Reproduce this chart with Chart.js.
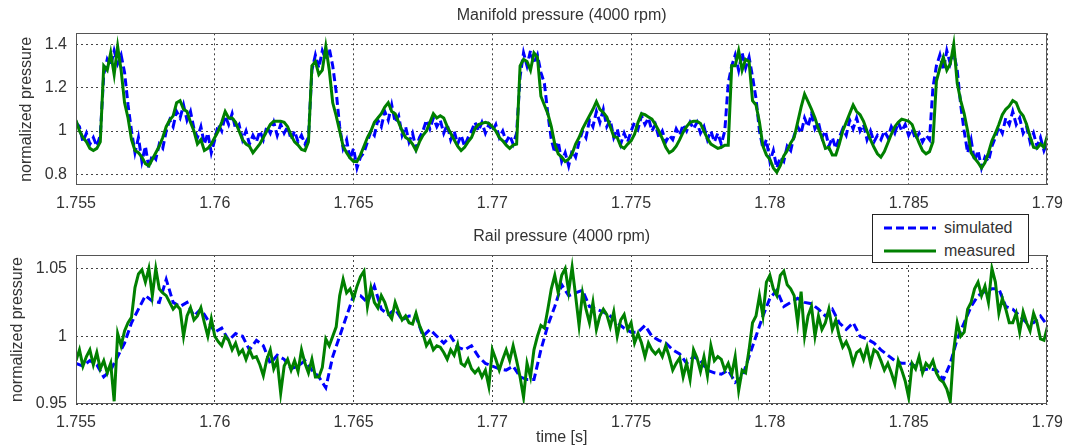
<!DOCTYPE html>
<html>
<head>
<meta charset="utf-8">
<title>Manifold and rail pressure</title>
<script src="https://cdn.jsdelivr.net/npm/chart.js@4.4.0/dist/chart.umd.min.js"></script>
<style>
    body { margin: 0; background: #fff; }
    .plot { position: absolute; left: 0; }
    #legend {
        position: absolute; left: 872px; top: 214px; width: 157px; height: 49px;
        box-sizing: border-box; border: 1px solid #222; background: #fff;
        font-family: "Liberation Sans", Arial, sans-serif; font-size: 16px; color: #333;
    }
    #legend .row { position: absolute; left: 0; height: 20px; }
    #legend svg { position: absolute; left: 11px; top: 7px; }
    #legend span { position: absolute; left: 71px; top: 0; line-height: 20px; white-space: nowrap; }
</style>
</head>
<body>
<div class="plot" style="top:0"><canvas id="manifold" width="1072" height="220"></canvas></div>
<div class="plot" style="top:210px"><canvas id="rail" width="1072" height="237"></canvas></div>
<div id="legend">
    <div class="row" style="top:3px">
        <svg width="52" height="6"><line x1="0" y1="3" x2="52" y2="3" stroke="#0000ff" stroke-width="3" stroke-dasharray="8 4"/></svg>
        <span>simulated</span>
    </div>
    <div class="row" style="top:26px">
        <svg width="52" height="6"><line x1="0" y1="3" x2="52" y2="3" stroke="#008000" stroke-width="3"/></svg>
        <span>measured</span>
    </div>
</div>
<script>
// --- Data (time base starts at 1.755 s) ---
const T0 = 1.755;
const DT_FINE = 0.000125;
const DT_COARSE = 0.00025;

const xTicks = [1.755, 1.76, 1.765, 1.77, 1.775, 1.78, 1.785, 1.79];
const xTickLabels = ['1.755', '1.76', '1.765', '1.77', '1.775', '1.78', '1.785', '1.79'];
const manifoldTicks = [0.8, 1, 1.2, 1.4];
const manifoldTickLabels = ['0.8', '1', '1.2', '1.4'];
const railTicks = [0.95, 1, 1.05];
const railTickLabels = ['0.95', '1', '1.05'];

// manifold pressure, step DT_FINE
const manifoldMeasured = [
    1.05, 1.00, 0.97, 0.95, 0.92, 0.91, 0.92, 0.95, 1.30, 1.28,
    1.36, 1.26, 1.39, 1.28, 1.13, 1.06, 0.96, 0.91, 0.90, 0.88,
    0.85, 0.84, 0.87, 0.90, 0.93, 0.97, 1.02, 1.05, 1.07, 1.13,
    1.14, 1.10, 1.09, 1.04, 1.00, 0.94, 0.96, 0.91, 0.92, 0.94,
    0.97, 1.00, 1.04, 1.09, 1.06, 1.06, 1.04, 1.00, 0.96, 0.94,
    0.93, 0.90, 0.92, 0.94, 0.97, 1.00, 1.03, 1.045, 1.045, 1.045,
    1.04, 1.02, 0.98, 0.95, 0.935, 0.915, 0.91, 0.95, 1.30, 1.32,
    1.26, 1.28, 1.39, 1.28, 1.13, 1.07, 1.00, 0.93, 0.90, 0.875,
    0.86, 0.86, 0.89, 0.93, 0.97, 1.00, 1.04, 1.06, 1.08, 1.11,
    1.13, 1.09, 1.08, 1.04, 1.00, 0.97, 0.96, 0.94, 0.91, 0.95,
    0.98, 1.00, 1.04, 1.08, 1.06, 1.07, 1.06, 1.02, 0.99, 0.96,
    0.93, 0.91, 0.925, 0.95, 0.97, 1.01, 1.03, 1.035, 1.04, 1.035,
    1.02, 1.00, 0.97, 0.955, 0.935, 0.92, 0.935, 0.94, 1.30, 1.33,
    1.32, 1.28, 1.36, 1.34, 1.16, 1.12, 1.08, 1.02, 0.94, 0.895,
    0.88, 0.86, 0.87, 0.895, 0.94, 0.97, 1.01, 1.04, 1.07, 1.10,
    1.135, 1.10, 1.085, 1.065, 1.02, 0.975, 0.97, 0.93, 0.92, 0.94,
    0.955, 0.985, 1.04, 1.08, 1.075, 1.065, 1.055, 1.03, 1.00, 0.965,
    0.925, 0.90, 0.91, 0.93, 0.96, 0.995, 1.02, 1.04, 1.045, 1.045,
    1.035, 1.00, 0.965, 0.94, 0.93, 0.92, 0.925, 0.935, 0.935, 1.30,
    1.30, 1.37, 1.28, 1.33, 1.32, 1.14, 1.12, 1.04, 0.93, 0.89,
    0.87, 0.83, 0.81, 0.84, 0.885, 0.91, 0.945, 0.97, 1.04, 1.11,
    1.17, 1.135, 1.10, 1.06, 1.01, 0.97, 0.92, 0.925, 0.89, 0.89,
    0.94, 1.00, 1.04, 1.08, 1.12, 1.09, 1.075, 1.045, 1.00, 0.96,
    0.925, 0.895, 0.88, 0.905, 0.945, 0.985, 1.02, 1.04, 1.055, 1.05,
    1.045, 1.03, 0.985, 0.945, 0.91, 0.895, 0.905, 0.95, 1.23, 1.29,
    1.34, 1.28, 1.31, 1.40, 1.22, 1.14, 1.08, 1.00, 0.90, 0.875,
    0.855, 0.83, 0.855, 0.90, 0.955, 0.99, 1.03, 1.075, 1.10, 1.115,
    1.14, 1.13, 1.09, 1.07, 1.03, 0.975, 0.925, 0.92, 0.94, 0.925, 0.98
];
const manifoldSimulated = [
    1.04, 1.02, 0.95, 0.99, 0.94, 0.97, 0.93, 0.98, 1.26, 1.33,
    1.30, 1.37, 1.31, 1.35, 1.27, 1.12, 1.00, 0.90, 0.97, 0.86,
    0.93, 0.83, 0.89, 0.87, 0.94, 0.92, 1.00, 1.05, 1.02, 1.09,
    1.06, 1.12, 1.05, 1.09, 1.01, 0.97, 1.02, 0.94, 0.99, 0.90,
    0.96, 1.03, 1.00, 1.07, 1.03, 1.08, 1.01, 1.03, 0.96, 1.00,
    0.94, 0.98, 0.95, 1.00, 0.96, 1.02, 0.99, 1.04, 0.98, 1.03,
    0.99, 1.02, 0.96, 1.00, 0.95, 0.98, 0.94, 0.97, 1.28, 1.35,
    1.29, 1.37, 1.33, 1.38, 1.30, 1.18, 1.02, 0.92, 0.96, 0.87,
    0.92, 0.83, 0.88, 0.90, 0.95, 1.00, 0.98, 1.05, 1.02, 1.09,
    1.05, 1.12, 1.04, 1.07, 0.98, 1.02, 0.95, 0.99, 0.92, 0.97,
    1.00, 1.05, 1.01, 1.06, 1.02, 1.05, 0.99, 1.03, 0.96, 1.00,
    0.94, 0.98, 0.93, 0.97, 1.00, 1.04, 1.00, 1.04, 0.99, 1.03,
    1.00, 1.03, 0.97, 1.00, 0.95, 0.98, 0.94, 0.99, 1.25, 1.36,
    1.30, 1.37, 1.31, 1.35, 1.27, 1.22, 1.08, 0.96, 0.90, 0.95,
    0.86, 0.90, 0.84, 0.91, 0.88, 0.95, 1.00, 0.97, 1.05, 1.02,
    1.09, 1.04, 1.10, 1.02, 1.05, 0.97, 1.01, 0.94, 0.99, 0.95,
    1.00, 1.04, 1.01, 1.07, 1.03, 1.06, 1.00, 1.03, 0.97, 1.00,
    0.95, 0.98, 0.96, 1.01, 0.98, 1.03, 1.00, 1.04, 1.01, 1.04,
    0.99, 1.02, 0.96, 1.00, 0.95, 0.99, 0.94, 1.00, 1.22, 1.30,
    1.35, 1.28, 1.36, 1.29, 1.34, 1.25, 1.15, 1.00, 0.92, 0.96,
    0.86, 0.91, 0.83, 0.88, 0.86, 0.93, 0.91, 0.98, 1.02, 0.99,
    1.06, 1.02, 1.08, 1.01, 1.04, 0.97, 1.00, 0.93, 0.97, 0.92,
    0.97, 1.01, 0.98, 1.05, 1.01, 1.06, 1.00, 1.03, 0.96, 1.00,
    0.95, 0.98, 0.96, 1.00, 0.97, 1.02, 0.99, 1.04, 1.00, 1.03,
    0.98, 1.01, 0.96, 0.99, 0.95, 0.98, 0.96, 1.20, 1.30, 1.35,
    1.28, 1.37, 1.31, 1.36, 1.28, 1.12, 1.00, 0.90, 0.96, 0.86,
    0.91, 0.83, 0.88, 0.86, 0.93, 0.97, 1.02, 0.99, 1.06, 1.03,
    1.09, 1.03, 1.06, 0.99, 1.02, 0.95, 0.99, 0.93, 0.97, 0.91, 0.95
];

// rail pressure: simulated step DT_COARSE, measured step DT_FINE
const railSimulated = [
    0.980, 0.978, 0.982, 0.979, 0.970, 0.975, 0.985, 0.995, 1.010, 1.020,
    1.030, 1.026, 1.025, 1.042, 1.025, 1.022, 1.025, 1.015, 1.020, 1.012,
    1.003, 1.006, 0.997, 1.002, 1.000, 0.990, 0.997, 0.993, 0.980, 0.986,
    0.983, 0.976, 0.978, 0.982, 0.975, 0.970, 0.962, 0.985, 1.000, 1.015,
    1.030, 1.030, 1.025, 1.037, 1.020, 1.016, 1.020, 1.012, 1.015, 1.015,
    1.000, 1.005, 1.000, 0.995, 1.000, 0.992, 0.990, 0.993, 0.985, 0.980,
    0.978, 0.976, 0.975, 0.978, 0.970, 0.968, 0.968, 0.990, 1.008, 1.022,
    1.038, 1.030, 1.032, 1.034, 1.022, 1.020, 1.018, 1.015, 1.010, 1.006,
    1.003, 1.003, 1.008, 1.000, 0.997, 0.995, 0.990, 0.987, 0.980, 0.985,
    0.982, 0.975, 0.973, 0.972, 0.975, 0.966, 0.970, 0.985, 1.000, 1.015,
    1.028, 1.034, 1.022, 1.025, 1.028, 1.025, 1.024, 1.020, 1.015, 1.020,
    1.010, 1.005, 1.010, 1.000, 0.998, 0.995, 0.990, 0.986, 0.982, 0.980,
    0.980, 0.978, 0.975, 0.976, 0.975, 0.968, 0.980, 0.998, 1.010, 1.022,
    1.030, 1.033, 1.035, 1.035, 1.022, 1.020, 1.015, 1.010, 1.010, 1.015, 1.008
];
const railMeasured = [
    0.982, 0.990, 0.978, 0.985, 0.990, 0.979, 0.988, 0.976, 0.982, 0.973,
    0.980, 0.952, 1.002, 0.993, 1.004, 1.010, 1.014, 1.036, 1.046, 1.049,
    1.040, 1.050, 1.030, 1.050, 1.035, 1.032, 1.030, 1.025, 1.020, 1.023,
    1.020, 1.000, 1.015, 1.021, 1.012, 1.015, 1.021, 1.010, 1.000, 1.013,
    1.000, 0.996, 0.993, 1.000, 0.997, 0.990, 0.995, 0.987, 0.990, 0.983,
    0.990, 0.984, 0.985, 0.979, 0.971, 0.983, 0.990, 0.976, 0.982, 0.958,
    0.978, 0.983, 0.975, 0.982, 0.974, 0.990, 0.980, 0.973, 0.983, 0.970,
    0.970, 0.977, 0.998, 0.993, 1.000, 1.007, 1.030, 1.042, 1.032, 1.035,
    1.028, 1.037, 1.044, 1.048, 1.022, 1.036, 1.025, 1.021, 1.030, 1.025,
    1.017, 1.013, 1.025, 1.018, 1.012, 1.015, 1.010, 1.009, 1.017, 1.008,
    1.002, 0.993, 0.997, 0.990, 0.993, 0.992, 0.988, 0.983, 0.990, 0.986,
    0.994, 0.980, 0.978, 0.983, 0.976, 0.973, 0.976, 0.970, 0.975, 0.963,
    0.990, 0.983, 0.975, 0.983, 0.990, 0.982, 0.993, 0.982, 0.970, 0.955,
    0.980, 0.970, 0.990, 1.000, 1.008, 1.006, 1.020, 1.035, 1.045, 1.032,
    1.045, 1.050, 1.033, 1.051, 1.030, 1.008, 1.032, 1.020, 1.010, 1.025,
    1.005, 1.015, 1.020, 1.016, 1.007, 1.018, 1.000, 1.012, 1.016, 1.005,
    1.010, 0.995, 1.002, 0.995, 0.985, 0.995, 0.990, 0.987, 0.990, 0.985,
    0.993, 0.985, 0.975, 0.980, 0.984, 0.970, 0.980, 0.968, 0.990, 0.984,
    0.974, 0.985, 0.971, 0.993, 0.982, 0.985, 0.983, 0.975, 0.980, 0.972,
    0.985, 0.960, 0.975, 0.973, 0.990, 1.010, 1.015, 1.030, 1.015, 1.040,
    1.045, 1.035, 1.030, 1.045, 1.048, 1.038, 1.035, 1.030, 1.010, 1.033,
    1.000, 1.015, 1.022, 1.000, 1.015, 1.005, 1.010, 1.020, 1.005, 1.012,
    1.000, 0.992, 0.996, 0.990, 0.980, 0.988, 0.990, 0.983, 0.992, 0.980,
    0.990, 0.988, 0.982, 0.975, 0.980, 0.973, 0.965, 0.982, 0.975, 0.967,
    0.955, 0.980, 0.976, 0.985, 0.973, 0.980, 0.977, 0.982, 0.973, 0.968,
    0.966, 0.961, 0.952, 0.990, 1.010, 1.000, 1.003, 1.020, 1.025, 1.035,
    1.040, 1.030, 1.037, 1.025, 1.050, 1.040, 1.017, 1.028, 1.020, 1.010,
    1.010, 1.017, 1.003, 1.018, 1.010, 1.004, 1.017, 1.010, 0.998, 0.997, 1.007
];

// --- Helpers ---
const toPoints = (values, dt) => values.map((v, i) => ({ x: T0 + i * dt, y: v }));

Chart.defaults.font.family = '"Liberation Sans", Arial, sans-serif';
Chart.defaults.font.size = 16;
Chart.defaults.color = '#333';

// box around the axes, like matlab
const framePlugin = {
    id: 'frame',
    afterDraw(chart) {
        const { ctx, chartArea: a } = chart;
        ctx.save();
        ctx.strokeStyle = '#555';
        ctx.lineWidth = 1;
        ctx.strokeRect(Math.round(a.left) + 0.5, Math.round(a.top) + 0.5,
            Math.round(a.right - a.left) - 1, Math.round(a.bottom - a.top) - 1);
        ctx.restore();
    }
};

function makePlot(canvasId, cfg) {
    return new Chart(document.getElementById(canvasId), {
        type: 'line',
        data: {
            datasets: [
                {
                    label: 'measured',
                    data: cfg.measured,
                    borderColor: '#008000',
                    borderWidth: 3,
                    order: 0
                },
                {
                    label: 'simulated',
                    data: cfg.simulated,
                    borderColor: '#0000ff',
                    borderWidth: 3,
                    borderDash: [8, 4],
                    order: 1
                }
            ]
        },
        options: {
            responsive: false,
            animation: false,
            parsing: true,
            elements: {
                point: { radius: 0 },
                line: { tension: 0, borderCapStyle: 'butt', borderJoinStyle: 'miter' }
            },
            layout: { padding: { left: 0, right: 22.7, top: 0, bottom: 0 } },
            plugins: {
                legend: { display: false },
                tooltip: { enabled: false },
                title: {
                    display: true,
                    text: cfg.title,
                    fullSize: false,
                    color: '#333',
                    font: { size: 16, weight: 'normal' },
                    padding: cfg.titlePadding
                }
            },
            scales: {
                x: {
                    type: 'linear',
                    min: 1.755,
                    max: 1.79,
                    afterBuildTicks: (axis) => { axis.ticks = xTicks.map(v => ({ value: v })); },
                    afterFit: (axis) => { axis.height = cfg.xHeight; },
                    ticks: { padding: 9, maxRotation: 0, autoSkip: false, callback: (v, i) => xTickLabels[i] },
                    grid: { color: '#444', lineWidth: 1, drawTicks: false },
                    border: { display: false, dash: [2, 3] },
                    title: {
                        display: !!cfg.xTitle,
                        text: cfg.xTitle || '',
                        padding: { top: 0, bottom: 0 }
                    }
                },
                y: {
                    type: 'linear',
                    min: cfg.yMin,
                    max: cfg.yMax,
                    afterBuildTicks: (axis) => { axis.ticks = cfg.yTicks.map(v => ({ value: v })); },
                    afterFit: (axis) => { axis.width = 76; },
                    ticks: { padding: 9, autoSkip: false, callback: (v, i) => cfg.yTickLabels[i] },
                    grid: { color: '#444', lineWidth: 1, drawTicks: false },
                    border: { display: false, dash: [2, 3] },
                    title: {
                        display: true,
                        text: 'normalized pressure',
                        padding: { top: cfg.yTitleOffset, bottom: 0 }
                    }
                }
            }
        },
        plugins: [framePlugin]
    });
}

// --- Top: manifold ---
makePlot('manifold', {
    title: 'Manifold pressure (4000 rpm)',
    titlePadding: { top: 6, bottom: 8.1 },
    measured: toPoints(manifoldMeasured, DT_FINE),
    simulated: toPoints(manifoldSimulated, DT_FINE),
    yMin: 0.75,
    yMax: 1.45,
    yTicks: manifoldTicks,
    yTickLabels: manifoldTickLabels,
    yTitleOffset: 17.2,
    xHeight: 34.7
});

// --- Bottom: rail ---
makePlot('rail', {
    title: 'Rail pressure (4000 rpm)',
    titlePadding: { top: 17.4, bottom: 8.4 },
    measured: toPoints(railMeasured, DT_FINE),
    simulated: toPoints(railSimulated, DT_COARSE),
    yMin: 0.95,
    yMax: 1.06,
    yTicks: railTicks,
    yTickLabels: railTickLabels,
    yTitleOffset: 7.7,
    xHeight: 43,
    xTitle: 'time [s]'
});
</script>
</body>
</html>
